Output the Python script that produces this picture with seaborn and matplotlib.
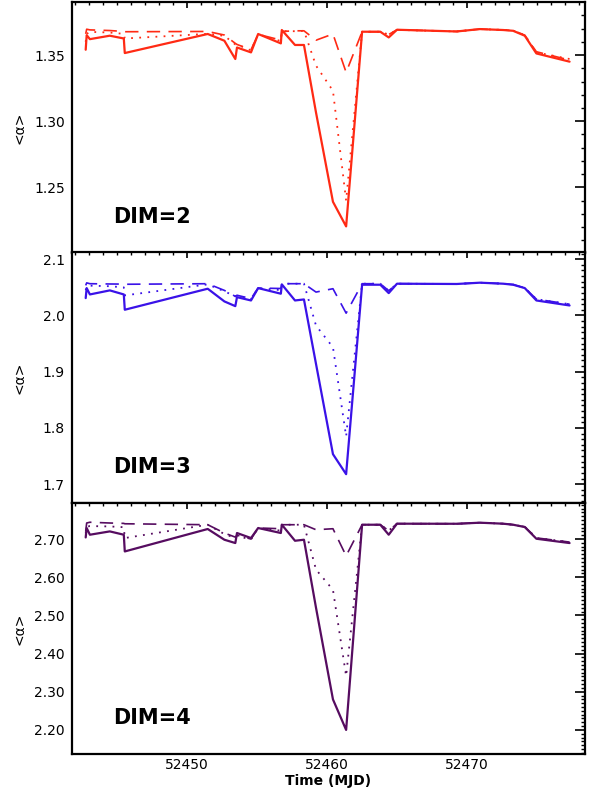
import numpy as np
import pandas as pd
import matplotlib
matplotlib.use("Agg")
import matplotlib.pyplot as plt
from matplotlib.ticker import MultipleLocator, FormatStrFormatter
import seaborn as sns

sns.set_style("white")
plt.rcParams['font.family'] = ['DejaVu Sans']
plt.rcParams['text.color'] = 'black'
plt.rcParams['axes.labelcolor'] = 'black'
plt.rcParams['xtick.color'] = 'black'
plt.rcParams['ytick.color'] = 'black'

# time stamps (MJD)
mjd = [52442.76, 52442.83, 52443.06, 52444.48, 52445.48, 52445.55, 52451.47,
       52452.66, 52453.44, 52453.56, 52454.56, 52455.07, 52456.69, 52456.76,
       52457.70, 52458.34, 52459.20, 52460.41, 52461.35, 52462.49, 52463.79,
       52464.39, 52464.98, 52469.24, 52470.90, 52472.56, 52473.27, 52474.10,
       52474.93, 52477.30]

# DIM=2
dim2_solid = [1.354, 1.365, 1.362, 1.3646, 1.3625, 1.3515, 1.3659, 1.3608, 1.347,
              1.3557, 1.352, 1.3659, 1.3588, 1.3689, 1.3576, 1.3576, 1.3066, 1.2392,
              1.2206, 1.3676, 1.3676, 1.3633, 1.3691, 1.3678, 1.3696, 1.3689, 1.3683,
              1.3646, 1.3512, 1.345]
dim2_dotted = [1.360, 1.366, 1.3675, 1.367, 1.366, 1.3625, 1.366, 1.3645, 1.358,
               1.358, 1.3535, 1.3658, 1.3605, 1.368, 1.368, 1.3683, 1.342, 1.323,
               1.240, 1.3676, 1.3676, 1.3655, 1.369, 1.3678, 1.3696, 1.369, 1.3685,
               1.365, 1.352, 1.347]
dim2_dashed = [1.366, 1.3695, 1.369, 1.3685, 1.3678, 1.3676, 1.3678, 1.3651, 1.3588,
               1.358, 1.354, 1.3656, 1.3613, 1.3678, 1.3683, 1.3683, 1.3612, 1.3659,
               1.3369, 1.3676, 1.3676, 1.3655, 1.3691, 1.3678, 1.3696, 1.3689, 1.3685,
               1.365, 1.3525, 1.3462]

# DIM=3
dim3_solid = [2.0309, 2.0487, 2.0374, 2.0446, 2.0374, 2.0102, 2.0476, 2.025, 2.0166,
              2.0326, 2.0267, 2.0487, 2.0387, 2.0553, 2.0267, 2.0285, 1.9139, 1.7534,
              1.7178, 2.0547, 2.0547, 2.0398, 2.0565, 2.0560, 2.0583, 2.0565, 2.0547,
              2.0487, 2.0267, 2.0178]
dim3_dotted = [2.045, 2.052, 2.053, 2.052, 2.050, 2.0357, 2.0553, 2.043, 2.034,
               2.035, 2.029, 2.0487, 2.045, 2.0565, 2.0565, 2.0565, 1.982, 1.9435,
               1.785, 2.0565, 2.0565, 2.044, 2.0565, 2.056, 2.0583, 2.0565, 2.055,
               2.049, 2.029, 2.020]
dim3_dashed = [2.0535, 2.058, 2.0565, 2.056, 2.0558, 2.0555, 2.0565, 2.0446, 2.034,
               2.036, 2.030, 2.0487, 2.048, 2.0565, 2.0565, 2.0565, 2.0416, 2.0476,
               2.0041, 2.0565, 2.0565, 2.044, 2.0565, 2.056, 2.0583, 2.0565, 2.055,
               2.049, 2.029, 2.020]

# DIM=4
dim4_solid = [2.7042, 2.7289, 2.7113, 2.72, 2.7113, 2.6675, 2.7263, 2.6982, 2.6895,
              2.7158, 2.7026, 2.7289, 2.7158, 2.7375, 2.6955, 2.6982, 2.52, 2.28,
              2.20, 2.7375, 2.7375, 2.7113, 2.7402, 2.740, 2.7428, 2.7402, 2.7375,
              2.7315, 2.7008, 2.6895]
dim4_dotted = [2.715, 2.732, 2.734, 2.733, 2.731, 2.7026, 2.7375, 2.713, 2.703,
               2.708, 2.699, 2.729, 2.722, 2.7375, 2.7375, 2.7375, 2.62, 2.567,
               2.341, 2.7375, 2.7375, 2.722, 2.7402, 2.740, 2.7428, 2.7402, 2.7375,
               2.732, 2.703, 2.692]
dim4_dashed = [2.72, 2.742, 2.744, 2.742, 2.741, 2.740, 2.7375, 2.7158, 2.705,
               2.710, 2.700, 2.729, 2.727, 2.7375, 2.7375, 2.7375, 2.7244, 2.727,
               2.656, 2.7375, 2.7375, 2.722, 2.7402, 2.740, 2.7428, 2.7402, 2.7375,
               2.732, 2.703, 2.692]

panels = [
    ("DIM=2", "#ff2a14", dim2_solid, dim2_dotted, dim2_dashed, (1.2003, 1.3897), 0.05, "%.2f"),
    ("DIM=3", "#3a12e8", dim3_solid, dim3_dotted, dim3_dashed, (1.666, 2.112), 0.1, "%.1f"),
    ("DIM=4", "#560c60", dim4_solid, dim4_dotted, dim4_dashed, (2.137, 2.794), 0.1, "%.2f"),
]

fig = plt.figure(figsize=(5.9, 7.95), dpi=100)
left, width = 0.1215, 0.870
bottoms = [0.6814, 0.3669, 0.0516]
height = 0.3155

for i, (name, col, s, d, da, ylim, major, fmt) in enumerate(panels):
    ax = fig.add_axes([left, bottoms[i], width, height])
    df = pd.DataFrame({'t': mjd, 'solid': s, 'dotted': d, 'dashed': da})
    sns.lineplot(data=df, x='t', y='dashed', ax=ax, color=col, lw=1.2,
                 estimator=None, linestyle=(0, (8, 5)))
    sns.lineplot(data=df, x='t', y='dotted', ax=ax, color=col, lw=1.3,
                 estimator=None, linestyle=(0, (1, 3.5)))
    sns.lineplot(data=df, x='t', y='solid', ax=ax, color=col, lw=1.6,
                 estimator=None)
    ax.set_xlim(52441.76, 52478.4)
    ax.set_ylim(*ylim)
    ax.yaxis.set_major_locator(MultipleLocator(major))
    ax.yaxis.set_minor_locator(MultipleLocator(0.01))
    ax.yaxis.set_major_formatter(FormatStrFormatter(fmt))
    ax.xaxis.set_major_locator(MultipleLocator(10))
    ax.xaxis.set_minor_locator(MultipleLocator(1))
    ax.tick_params(axis='both', which='both', direction='in', top=True, right=True,
                   labelsize=10, color='black')
    ax.tick_params(axis='y', which='major', length=7, width=1.2, pad=5)
    ax.tick_params(axis='y', which='minor', length=3.2, width=1.0)
    ax.tick_params(axis='x', which='major', length=4.5, width=1.2, pad=3)
    ax.tick_params(axis='x', which='minor', length=2.3, width=1.0)
    for sp in ax.spines.values():
        sp.set_linewidth(1.6)
        sp.set_color('black')
    ax.set_ylabel('<α>', fontsize=10)
    ax.yaxis.set_label_coords(-0.088, 0.5)
    ax.text(0.08, 0.145, name, transform=ax.transAxes, fontsize=15,
            fontweight='bold', va='center', ha='left', color='black')
    if i < 2:
        ax.set_xlabel('')
        ax.tick_params(axis='x', labelbottom=False)
    else:
        ax.xaxis.set_major_formatter(FormatStrFormatter('%d'))
        ax.set_xlabel('Time (MJD)', fontsize=10, fontweight='bold', labelpad=1)

fig.savefig("out.png", dpi=100)
